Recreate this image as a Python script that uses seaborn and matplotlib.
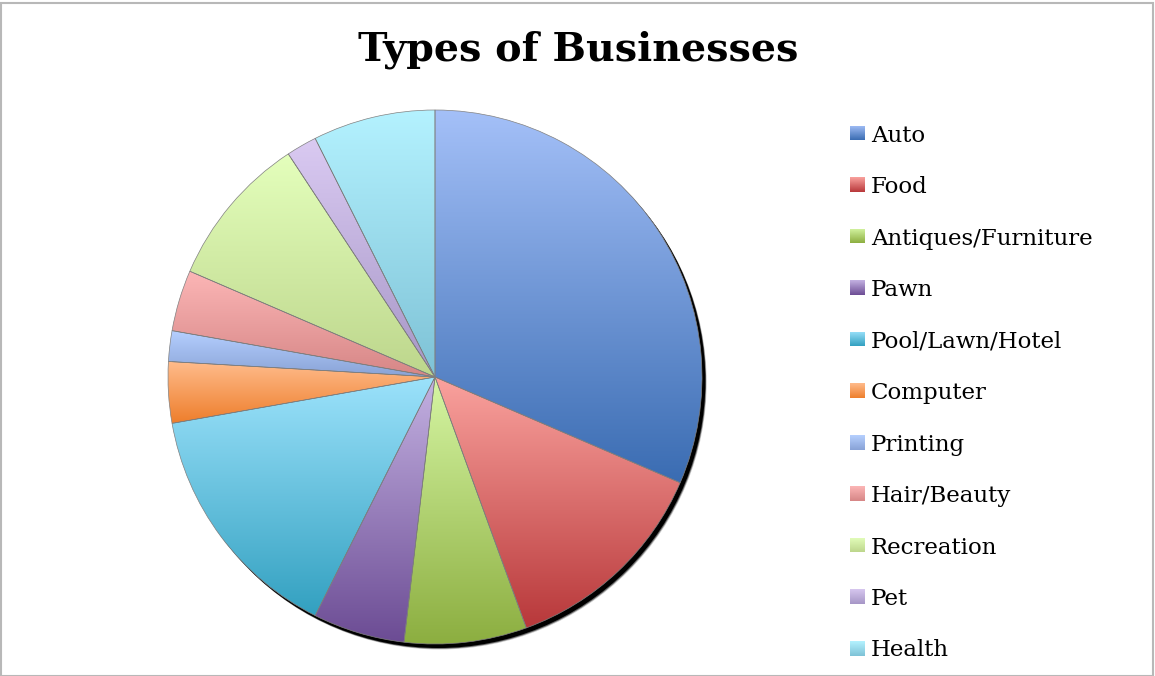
import numpy as np
import matplotlib
matplotlib.use("Agg")
import matplotlib.pyplot as plt
from matplotlib.colors import LinearSegmentedColormap
from matplotlib.patches import Circle, Rectangle
import seaborn as sns

# Number of businesses in each category
categories = ["Auto", "Food", "Antiques/Furniture", "Pawn", "Pool/Lawn/Hotel",
              "Computer", "Printing", "Hair/Beauty", "Recreation", "Pet", "Health"]
counts = [17, 7, 4, 3, 8, 2, 1, 2, 5, 1, 4]

# Gradient colours for each slice: (light top, dark bottom)
top_colors = ["#A4C0F8", "#FAA29E", "#D6F6A4", "#C4B2E2", "#9CE2FB", "#FFBC8C",
              "#B6D0FF", "#FCB6B6", "#E4FFBC", "#DACAF2", "#B4F2FF"]
bottom_colors = ["#3A6CB2", "#B8383A", "#8CAE40", "#6C4C94", "#32A0C0", "#EE7E2C",
                 "#88A2D6", "#D68686", "#BDD68C", "#A696C6", "#7EC2D6"]

sns.set_theme(style="white")
plt.rcParams["font.family"] = ["DejaVu Serif"]

W, H = 1155, 676
fig = plt.figure(figsize=(W / 100, H / 100), dpi=100)

# pie geometry in pixels
cx, cy, r_px = 435, 377, 267
lim = 1.1
side = 2 * r_px * lim
ax = fig.add_axes([(cx - side / 2) / W, (H - cy - side / 2) / H, side / W, side / H])

wedges, _ = ax.pie(counts, startangle=90, counterclock=False, radius=1.0,
                   wedgeprops=dict(linewidth=0.5, edgecolor="#808080"))
ax.set_xlim(-lim, lim)
ax.set_ylim(-lim, lim)
ax.set_aspect("equal")
ax.axis("off")

# drop shadow behind the pie
px = 1.0 / r_px
for k, a in [(5.5, 0.2), (4.8, 0.5), (4.0, 1.0)]:
    ax.add_patch(Circle((k * px * 0.85, -k * px), 1.0, facecolor="black",
                        edgecolor="none", alpha=a, zorder=0.5))

grad = np.linspace(0, 1, 256).reshape(-1, 1)
for w, c0, c1 in zip(wedges, top_colors, bottom_colors):
    w.set_zorder(2)
    fc_cmap = LinearSegmentedColormap.from_list("g", [c0, c1])
    bb = w.get_path().get_extents()
    w.set_facecolor("none")
    im = ax.imshow(grad, cmap=fc_cmap, aspect="auto", origin="upper",
                   extent=[bb.x0, bb.x1, bb.y0, bb.y1], zorder=1,
                   interpolation="bilinear")
    im.set_clip_path(w)
ax.set_xlim(-lim, lim)
ax.set_ylim(-lim, lim)

# title
fig.text(578 / W, 1 - 50 / H, "Types of Businesses", ha="center", va="center",
         fontsize=28.5, fontweight="bold", color="black")

# legend with gradient swatches
y0, dy = 133, 51.5
sq = 15
for i, (name, c0, c1) in enumerate(zip(categories, top_colors, bottom_colors)):
    yc = y0 + i * dy
    lax = fig.add_axes([850 / W, 1 - (yc + sq / 2) / H, sq / W, sq / H])
    lax.imshow(grad, cmap=LinearSegmentedColormap.from_list("g", [c0, c1]),
               aspect="auto", interpolation="bilinear")
    lax.axis("off")
    fig.text(871 / W, 1 - yc / H, name, ha="left", va="center_baseline",
             fontsize=16.5, color="black")

# chart border
fig.add_artist(Rectangle((0.5 / W, 0.5 / H), 1 - 3 / W, 1 - 3 / H,
                         transform=fig.transFigure, fill=False,
                         edgecolor="#b8b8b8", linewidth=1.5))

fig.savefig("out.png", dpi=100)
